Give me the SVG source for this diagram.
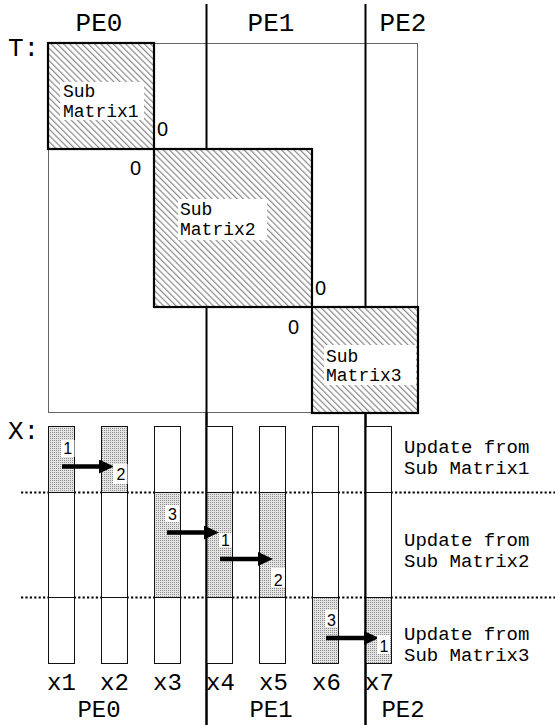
<svg xmlns="http://www.w3.org/2000/svg" width="555" height="725" viewBox="0 0 555 725">
<style>
.mono{font-family:"Liberation Mono","Courier New",monospace;fill:#000}
.big{font-size:26px}
.bot{font-size:24px}
.mid{font-size:18px}
.upd{font-size:19px}
.sans{font-family:"Liberation Sans",Arial,sans-serif;fill:#000}
.zero{font-size:20px}
.num{font-size:16px;text-anchor:middle}
.pe{stroke:#000;stroke-width:2;fill:none}
.sub{stroke:#000;stroke-width:2.2;fill:url(#hatch)}
.lab{fill:#fff}
.bar{stroke:#111;stroke-width:1;fill:#fff}
.sh{stroke:#111;stroke-width:1;fill:url(#dots)}
.dot{stroke:#000;stroke-width:2;stroke-dasharray:2.2 2.2}
.arr{stroke:#000;stroke-width:4.5;marker-end:url(#ah)}
</style>
<defs>
<pattern id="hatch" patternUnits="userSpaceOnUse" width="4.4" height="4.4" patternTransform="rotate(-45)">
<rect width="4.4" height="4.4" fill="#fff"/>
<line x1="0.6" y1="0" x2="0.6" y2="4.4" stroke="#8a8a8a" stroke-width="1.2"/>
</pattern>
<pattern id="dots" patternUnits="userSpaceOnUse" width="2" height="2">
<rect width="2" height="2" fill="#e4e4e4"/>
<rect width="1" height="1" fill="#8c8c8c"/>
</pattern>
<marker id="ah" viewBox="0 0 15 14" refX="7" refY="7" markerWidth="15" markerHeight="14" markerUnits="userSpaceOnUse" orient="auto">
<path d="M0,0 L15,7 L0,14 z" fill="#000"/>
</marker>
</defs>

<g id="matrix-T">
<rect x="48.5" y="43.5" width="369" height="369" fill="#fff" stroke="#666" stroke-width="1"/>
</g>

<g id="pe-dividers">
<line class="pe" x1="206.5" y1="4" x2="206.5" y2="725"/>
<line class="pe" x1="365.5" y1="4" x2="365.5" y2="725"/>
</g>

<g id="submatrix1">
<rect class="sub" x="48" y="43" width="106" height="106"/>
<rect class="lab" x="60" y="82" width="84" height="38"/>
<text class="mono mid" x="63" y="97">Sub</text>
<text class="mono mid" x="63" y="117">Matrix1</text>
</g>
<g id="submatrix2">
<rect class="sub" x="154" y="149" width="158" height="158"/>
<rect class="lab" x="178" y="199" width="89" height="41"/>
<text class="mono mid" x="180" y="215">Sub</text>
<text class="mono mid" x="180" y="235">Matrix2</text>
</g>
<g id="submatrix3">
<rect class="sub" x="312" y="307" width="106" height="106"/>
<rect class="lab" x="324" y="345" width="92" height="40"/>
<text class="mono mid" x="326" y="362">Sub</text>
<text class="mono mid" x="326" y="381">Matrix3</text>
</g>

<g id="zeros">
<text class="sans zero" x="157" y="136">0</text>
<text class="sans zero" x="130" y="175">0</text>
<text class="sans zero" x="315" y="295">0</text>
<text class="sans zero" x="288" y="334">0</text>
</g>

<g id="labels">
<text class="mono big" x="99" y="31" text-anchor="middle">PE0</text>
<text class="mono big" x="271" y="31" text-anchor="middle">PE1</text>
<text class="mono big" x="403" y="31" text-anchor="middle">PE2</text>
<text class="mono big" x="8" y="56">T:</text>
<text class="mono big" x="8" y="439">X:</text>
<text class="mono bot" x="99" y="717" text-anchor="middle">PE0</text>
<text class="mono bot" x="271" y="717" text-anchor="middle">PE1</text>
<text class="mono bot" x="403" y="717" text-anchor="middle">PE2</text>
<text class="mono bot" x="47" y="690">x1</text>
<text class="mono bot" x="100" y="690">x2</text>
<text class="mono bot" x="153" y="690">x3</text>
<text class="mono bot" x="206" y="690">x4</text>
<text class="mono bot" x="259" y="690">x5</text>
<text class="mono bot" x="312" y="690">x6</text>
<text class="mono bot" x="365" y="690">x7</text>
<text class="mono upd" x="404" y="453">Update from</text>
<text class="mono upd" x="404" y="474">Sub Matrix1</text>
<text class="mono upd" x="404" y="546">Update from</text>
<text class="mono upd" x="404" y="567">Sub Matrix2</text>
<text class="mono upd" x="404" y="640">Update from</text>
<text class="mono upd" x="404" y="661">Sub Matrix3</text>
</g>

<g id="separators">
<line class="dot" x1="21" y1="492.5" x2="555" y2="492.5"/>
<line class="dot" x1="21" y1="597.5" x2="555" y2="597.5"/>
</g>

<g id="x1"><rect class="sh" x="48.5" y="426.5" width="26" height="66"/><rect class="bar" x="48.5" y="492.5" width="26" height="105"/><rect class="bar" x="48.5" y="597.5" width="26" height="66"/></g>
<g id="x2"><rect class="sh" x="101.5" y="426.5" width="26" height="66"/><rect class="bar" x="101.5" y="492.5" width="26" height="105"/><rect class="bar" x="101.5" y="597.5" width="26" height="66"/></g>
<g id="x3"><rect class="bar" x="154.5" y="426.5" width="26" height="66"/><rect class="sh" x="154.5" y="492.5" width="26" height="105"/><rect class="bar" x="154.5" y="597.5" width="26" height="66"/></g>
<g id="x4"><rect class="bar" x="206.5" y="426.5" width="26" height="66"/><rect class="sh" x="206.5" y="492.5" width="26" height="105"/><rect class="bar" x="206.5" y="597.5" width="26" height="66"/></g>
<g id="x5"><rect class="bar" x="259.5" y="426.5" width="26" height="66"/><rect class="sh" x="259.5" y="492.5" width="26" height="105"/><rect class="bar" x="259.5" y="597.5" width="26" height="66"/></g>
<g id="x6"><rect class="bar" x="312.5" y="426.5" width="26" height="66"/><rect class="bar" x="312.5" y="492.5" width="26" height="105"/><rect class="sh" x="312.5" y="597.5" width="26" height="66"/></g>
<g id="x7"><rect class="bar" x="365.5" y="426.5" width="26" height="66"/><rect class="bar" x="365.5" y="492.5" width="26" height="105"/><rect class="sh" x="365.5" y="597.5" width="26" height="66"/></g>

<g id="pe-dividers-over">
<line class="pe" x1="206.5" y1="413" x2="206.5" y2="725"/>
<line class="pe" x1="365.5" y1="413" x2="365.5" y2="725"/>
</g>

<g id="connectors">
<line class="arr" x1="62" y1="466.5" x2="106" y2="466.5"/>
<line class="arr" x1="167" y1="532.5" x2="211" y2="532.5"/>
<line class="arr" x1="220" y1="559" x2="265" y2="559"/>
<line class="arr" x1="326" y1="638" x2="371" y2="638"/>
</g>

<g id="step-labels">
<rect class="lab" x="61" y="440" width="13.5" height="17"/><text class="sans num" x="67.8" y="453.5">1</text>
<rect class="lab" x="113" y="464" width="14.5" height="20"/><text class="sans num" x="121" y="480">2</text>
<rect class="lab" x="165" y="505" width="14" height="17"/><text class="sans num" x="172.5" y="519.5">3</text>
<rect class="lab" x="219" y="533" width="13" height="14"/><text class="sans num" x="225.5" y="545.5">1</text>
<rect class="lab" x="271" y="568" width="14" height="19"/><text class="sans num" x="278.3" y="585.5">2</text>
<rect class="lab" x="325" y="610" width="12.5" height="17"/><text class="sans num" x="331.5" y="625.5">3</text>
<rect class="lab" x="377" y="635" width="13" height="19"/><text class="sans num" x="384" y="652">1</text>
</g>
</svg>
